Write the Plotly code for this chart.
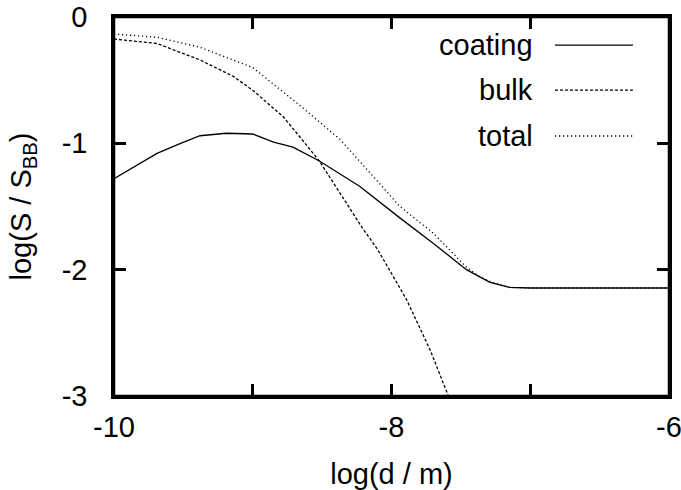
import plotly.graph_objects as go

# ---- data ----
coating_x = [-10, -9.69, -9.52, -9.38, -9.19, -9.0, -8.85, -8.71, -8.52, -8.23,
             -7.94, -7.70, -7.46, -7.29, -7.15, -7.0, -6.0]
coating_y = [-1.28, -1.08, -1.00, -0.94, -0.92, -0.926, -0.99, -1.03, -1.14, -1.34,
             -1.59, -1.79, -2.00, -2.10, -2.14, -2.145, -2.145]

bulk_x = [-10, -9.69, -9.38, -9.14, -9.0, -8.78, -8.66, -8.52, -8.35, -8.21,
          -8.10, -7.89, -7.72, -7.59, -7.5]
bulk_y = [-0.174, -0.21, -0.34, -0.47, -0.58, -0.79, -0.95, -1.14, -1.43, -1.67,
          -1.84, -2.24, -2.64, -3.0, -3.25]

total_x = [-10, -9.69, -9.38, -9.0, -8.66, -8.37, -8.06, -7.94, -7.70, -7.46,
           -7.36, -7.25, -7.15, -7.0, -6.0]
total_y = [-0.135, -0.16, -0.24, -0.40, -0.70, -0.97, -1.35, -1.50, -1.71, -1.98,
           -2.06, -2.11, -2.14, -2.145, -2.145]

x_ticks = [-10, -9, -8, -7, -6]
x_tick_labels = ["-10", " ", "-8", " ", "-6"]
y_ticks = [-3, -2, -1, 0]

series_names = ["coating", "bulk", "total"]
dashes = ["solid", "3px,2px", "1.2px,2.8px"]
x_axes_used = ["x", "x", "x2"]

FONT = "Liberation Sans, Arial, Helvetica, sans-serif"
FS = 29

fig = go.Figure()
for name, xs, ys, d, xa in zip(series_names,
                               [coating_x, bulk_x, total_x],
                               [coating_y, bulk_y, total_y], dashes, x_axes_used):
    fig.add_trace(go.Scatter(x=xs, y=ys, mode="lines", name=name, xaxis=xa, yaxis="y",
                             line=dict(color="black", width=1.3, dash=d),
                             showlegend=False, cliponaxis=True))

# legend drawn gnuplot-style: right-aligned text, sample to the right
leg_y = [0.926, 0.807, 0.686]
for name, d, yy in zip(series_names, dashes, leg_y):
    fig.add_annotation(x=0.7586, y=yy, xref="paper", yref="paper",
                       text=name, showarrow=False, xanchor="right", yanchor="middle",
                       font=dict(family=FONT, size=FS, color="black"))
    fig.add_shape(type="line", xref="paper", yref="paper",
                  x0=0.7946, x1=0.935, y0=yy, y1=yy,
                  line=dict(color="black", width=1.3, dash=d))

# frame around the plot area
fig.add_shape(type="rect", xref="paper", yref="paper", x0=0, x1=1, y0=0, y1=1,
              line=dict(color="black", width=2.5), layer="above")

tick_style = dict(ticks="inside", ticklen=12, tickwidth=2.5, tickcolor="black",
                  showgrid=False, zeroline=False, layer="above traces")

axis_common = dict(showline=True, linecolor="black", linewidth=2.5, mirror="ticks",
                   ticklabeloverflow="allow",
                   tickfont=dict(family=FONT, size=FS, color="black"), **tick_style)

fig.update_layout(
    xaxis=dict(range=[-10, -6], tickmode="array", tickvals=x_ticks,
               ticktext=x_tick_labels,
               title=dict(text="log(d / m)", font=dict(family=FONT, size=FS, color="black"),
                          standoff=26),
               ticklabelstandoff=3, **axis_common),
    xaxis2=dict(range=[-10, -6], tickmode="array", tickvals=x_ticks,
                overlaying="x", side="top", showticklabels=False, showline=False,
                **tick_style),
    yaxis=dict(range=[-3, 0], tickmode="array", tickvals=y_ticks,
               ticktext=[str(v) for v in y_ticks],
               title=dict(text="log(S / S<sub>BB</sub>)",
                          font=dict(family=FONT, size=FS, color="black"),
                          standoff=22),
               ticklabelstandoff=18, **axis_common),
)

fig.update_layout(width=681, height=490,
                  margin=dict(l=114, r=12, t=17, b=94, autoexpand=False),
                  paper_bgcolor="white", plot_bgcolor="white",
                  font=dict(family=FONT, size=FS, color="black"))

fig.write_html("out.html", config={"displayModeBar": False},
               post_script="document.body.style.margin='0';document.body.style.overflow='hidden';")
